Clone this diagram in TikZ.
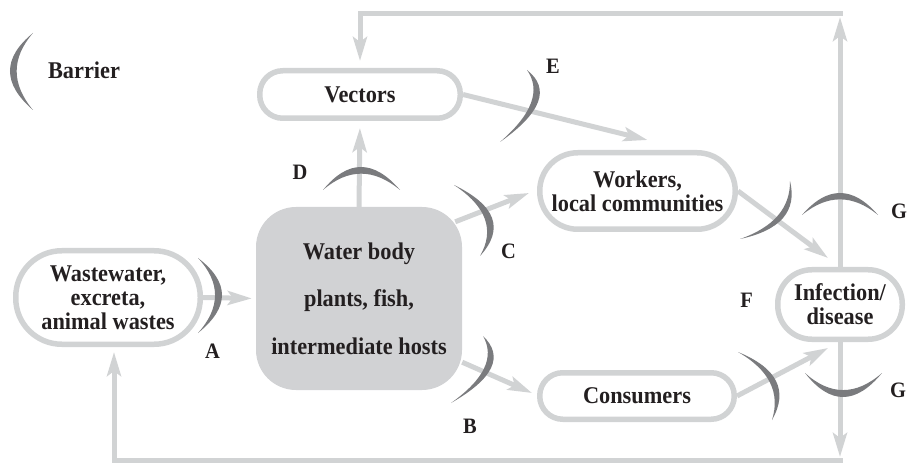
\documentclass[tikz,border=0pt]{standalone}
\usepackage{fontspec}
\setmainfont{Liberation Serif}[FakeStretch=0.93]
\usetikzlibrary{arrows.meta,calc}
\definecolor{linegray}{HTML}{D1D3D4}
\definecolor{bargray}{HTML}{7A7B7E}
\definecolor{txt}{HTML}{231F20}
\definecolor{wbfill}{HTML}{D1D2D4}
\newcommand\barrier[3]{%
  \path (#1) -- (#2) coordinate[pos=0.5] (bm);
  \coordinate (bo) at ($(bm)!2!(#3)$);
  \coordinate (bi) at ($(bm)!1.42!(#3)$);
  \fill[bargray] (#1) .. controls ($(#1)!0.6667!(bo)$) and ($(#2)!0.6667!(bo)$) .. (#2)
    .. controls ($(#2)!0.6667!(bi)$) and ($(#1)!0.6667!(bi)$) .. (#1) -- cycle;}
\tikzset{
  box/.style={draw=linegray, line width=5.5pt, rectangle, align=center,
    inner sep=0pt, text=txt, font=\fontsize{24}{24}\selectfont\bfseries},
  conn/.style={draw=linegray, line width=5pt,
    -{Stealth[length=24pt,width=14pt,inset=5pt]}},
  lbl/.style={text=txt, anchor=base, inner sep=0pt,
    font=\fontsize{22}{22}\selectfont\bfseries},
}
\begin{document}
\begin{tikzpicture}[x=1pt,y=-1pt]
\useasboundingbox (0,0) rectangle (908,465);

% nodes
\node[box, minimum width=184.5pt, minimum height=93.5pt, rounded corners=46pt]
  (ww) at (108,297.5) {Wastewater,\\excreta,\\animal wastes};
\node[fill=wbfill, rectangle, rounded corners=40pt, minimum width=206pt,
  minimum height=183pt, inner sep=0pt, align=center, text=txt,
  font=\fontsize{24}{47.5}\selectfont\bfseries]
  (wb) at (359,298.5) {Water body\\plants, fish,\\intermediate hosts};
\node[box, minimum width=200.5pt, minimum height=47.5pt, rounded corners=23pt]
  (vec) at (360,94.5) {Vectors};
\node[box, minimum width=195.5pt, minimum height=76.5pt, rounded corners=38pt]
  (wk) at (637.5,191) {Workers,\\local communities};
\node[box, minimum width=194.5pt, minimum height=46.5pt, rounded corners=23pt]
  (cons) at (637,396) {Consumers};
\node[box, minimum width=124.5pt, minimum height=69.5pt, rounded corners=34pt]
  (inf) at (840,304.5) {Infection/\\disease};

% loop corners
\coordinate (tr) at (841,14);
\coordinate (br) at (841,460);
\coordinate (bl) at (114,460);

% connectors
\draw[conn, shorten >=4pt] (ww.east) -- (wb.west);
\draw[conn, shorten >=7pt] (wb.north) -- (vec.south);
\draw[conn] ($(wb.north east)+(-7,15)$) -- ($(wk.west)+(-8,2)$);
\draw[conn] ($(wb.south east)+(0,-28)$) -- ($(cons.west)+(-5,-3)$);
\draw[conn] (vec.east) -- ($(wk.north)+(10,-10)$);
\draw[conn] (wk.east) -- ($(inf.north)+(-12,-9)$);
\draw[conn] (cons.east) -- ($(inf.south)+(-12,6)$);
\draw[conn, shorten >=3pt] (inf.north) -- (inf.north |- tr);
\draw[conn, shorten >=7pt] ($(inf.north |- tr)+(2.5,0)$) -- (vec.north |- tr) -- (vec.north);
\draw[conn, shorten >=3pt] (inf.south) -- (inf.south |- br);
\draw[conn, shorten >=5pt] ($(inf.south |- br)+(2.5,0)$) -- (bl) -- (bl |- ww.south);

% barriers
\barrier{33,33}{33,110}{10,71}
\barrier{198,258}{198,333}{222,295}
\barrier{323,190}{400,190}{361,167}
\barrier{454,185}{480,256}{492,218}
\barrier{527,70}{500,142}{538,102}
\barrier{790,181}{740,239}{783,218}
\barrier{802,215}{878,215}{840,193}
\barrier{805,373}{882,373}{843,397}
\barrier{738,352}{772,420}{776,381}
\barrier{483,336}{451,403}{491,368}

% labels
\node[lbl, font=\fontsize{24}{24}\selectfont\bfseries] (barrierlbl) at (84,79) {Barrier};
\node[lbl] (la) at (212.5,358) {A};
\node[lbl] (lb) at (470,433) {B};
\node[lbl] (lc) at (508.5,259) {C};
\node[lbl] (ld) at (300,180) {D};
\node[lbl] (le) at (553,74) {E};
\node[lbl] (lf) at (746.5,307) {F};
\node[lbl] (lg1) at (899,219) {G};
\node[lbl] (lg2) at (898,397) {G};
\end{tikzpicture}
\end{document}
